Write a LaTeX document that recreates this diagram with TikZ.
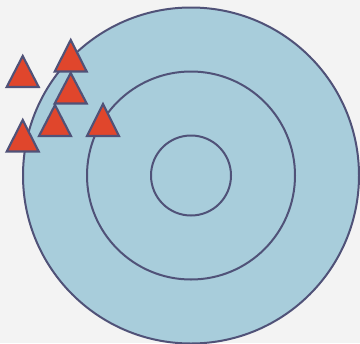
\documentclass[tikz,border=0pt]{standalone}
\usepackage{tikz}

\definecolor{paper}{RGB}{243,243,243}
\definecolor{target}{RGB}{168,205,219}
\definecolor{rim}{RGB}{80,82,120}
\definecolor{hit}{RGB}{224,70,44}

\tikzset{every picture/.style={line width=0.75pt}}
\tikzset{
ring/.style={draw=rim, line width=1.5pt},
hitmark/.style={draw=rim, fill=hit, line width=1.6pt, line join=miter}}

\begin{document}
\begin{tikzpicture}[x=0.75pt,y=0.75pt,yscale=-1,xscale=1]
%background
\fill [paper] (0,0) rectangle (360,343);
\useasboundingbox (0,0) rectangle (360,343);

%Shape: Circle [outer]
\draw [ring, fill=target] (191,175.5) circle [radius=168];
%Shape: Circle [middle]
\draw [ring] (191,175.5) circle [radius=104];
%Shape: Circle [inner]
\draw [ring] (191,175.5) circle [radius=40];

%Shape: Triangle
\draw [hitmark] (22.7,56) -- (38.7,87) -- (6.7,87) -- cycle ;
%Shape: Triangle
\draw [hitmark] (70.7,40) -- (86.7,71.5) -- (54.7,71.5) -- cycle ;
%Shape: Triangle
\draw [hitmark] (70.7,73) -- (86.7,103.5) -- (54.7,103.5) -- cycle ;
%Shape: Triangle
\draw [hitmark] (55,105) -- (71,136) -- (39,136) -- cycle ;
%Shape: Triangle
\draw [hitmark] (103,104) -- (119,136) -- (87,136) -- cycle ;
%Shape: Triangle
\draw [hitmark] (22.7,120) -- (38.7,151.5) -- (6.7,151.5) -- cycle ;

\end{tikzpicture}
\end{document}
